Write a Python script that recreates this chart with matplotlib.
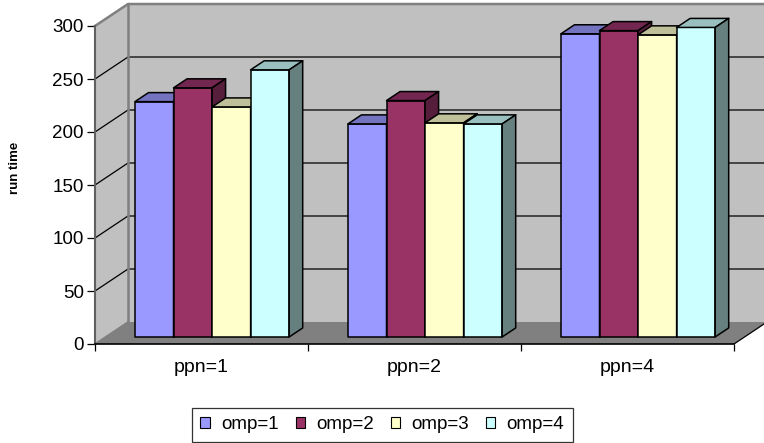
import numpy as np
import matplotlib.pyplot as plt
from matplotlib.patches import Polygon, Patch

plt.rcParams['font.family'] = ['Liberation Sans', 'DejaVu Sans']

# data
categories = ['ppn=1', 'ppn=2', 'ppn=4']
series = ['omp=1', 'omp=2', 'omp=3', 'omp=4']
omp1 = [222, 201, 286]
omp2 = [235, 223, 289]
omp3 = [217, 202, 285]
omp4 = [252, 201, 292]
yticks = [0, 50, 100, 150, 200, 250, 300]

values = [omp1, omp2, omp3, omp4]
front_c = ['#9999FF', '#993366', '#FFFFCC', '#CCFFFF']
top_c = ['#7373BF', '#732650', '#BFBF99', '#99BFBF']
side_c = ['#4D4D80', '#561E3B', '#808066', '#668080']

# pixel geometry of the oblique projection
PX_X = 213.0          # px per category
PX_Y = 1.06           # px per value unit
DX = 33 / PX_X        # depth shift in data units
DY = 22 / PX_Y
F0, F1 = 0.32, 0.73   # bar front / back depth fraction
BAR_W = 0.181

fig = plt.figure(figsize=(7.64, 4.43), dpi=100)
W, H = 764, 443
ax = fig.add_axes([95 / W, (H - 344) / H, (W - 95) / W, 342 / H])
xmax = (W - 95) / PX_X
ax.set_xlim(0, xmax)
ax.set_ylim(0, 342 / PX_Y)
ymax = 300
n = len(categories)

wall = '#C0C0C0'
floor = '#808080'
edge = '#808080'

# left wall, back wall, floor
ax.add_patch(Polygon([(0, 0), (DX, DY), (DX, ymax + DY), (0, ymax)],
                     closed=True, fc=wall, ec='none', zorder=1))
ax.add_patch(Polygon([(DX, DY), (xmax + 1, DY), (xmax + 1, ymax + DY), (DX, ymax + DY)],
                     closed=True, fc=wall, ec='none', zorder=1))
for v in yticks[1:-1]:
    ax.plot([0, DX, xmax + 1], [v, v + DY, v + DY], color='black', lw=0.9, zorder=2)
ax.plot([0, DX, xmax + 1], [ymax, ymax + DY, ymax + DY], color=edge, lw=1.8,
        zorder=2, clip_on=False)
ax.plot([DX, DX], [DY, ymax + DY], color=edge, lw=1.8, zorder=2)
ax.add_patch(Polygon([(0, 0), (n, 0), (n + DX, DY), (DX, DY)],
                     closed=True, fc=floor, ec='none', zorder=3))
ax.plot([0, DX], [0, DY], color=edge, lw=1.2, zorder=3)
ax.plot([n, n + DX], [0, DY], color='black', lw=0.9, zorder=3)

# bars
pad = (1 - len(series) * BAR_W) / 2
for i in range(n):
    for j in range(len(series)):
        v = values[j][i]
        x0 = i + pad + j * BAR_W + F0 * DX
        y0 = F0 * DY
        x1 = x0 + BAR_W
        ddx = (F1 - F0) * DX
        ddy = (F1 - F0) * DY
        kw = dict(closed=True, ec='black', lw=1.1, zorder=4, joinstyle='round')
        ax.add_patch(Polygon([(x0, y0), (x1, y0), (x1, y0 + v), (x0, y0 + v)],
                             fc=front_c[j], **kw))
        ax.add_patch(Polygon([(x0, y0 + v), (x1, y0 + v), (x1 + ddx, y0 + v + ddy),
                              (x0 + ddx, y0 + v + ddy)], fc=top_c[j], **kw))
        ax.add_patch(Polygon([(x1, y0), (x1 + ddx, y0 + ddy), (x1 + ddx, y0 + v + ddy),
                              (x1, y0 + v)], fc=side_c[j], **kw))

# axes
for s in ['top', 'right']:
    ax.spines[s].set_visible(False)
ax.spines['left'].set_bounds(0, ymax)
ax.spines['left'].set_color('#606060')
ax.spines['left'].set_linewidth(1.5)
ax.spines['left'].set_zorder(5)
ax.spines['bottom'].set_bounds(0, n)
ax.spines['bottom'].set_color('black')
ax.spines['bottom'].set_linewidth(1.2)
ax.spines['bottom'].set_zorder(5)

ax.set_yticks(yticks)
ax.tick_params(axis='y', direction='out', length=6, width=0.9, pad=2, labelsize=13.5)
ax.set_xticks(range(n + 1))
ax.set_xticklabels([])
ax.tick_params(axis='x', which='major', direction='out', length=5, width=0.9)
ax.set_xticks(np.arange(n) + 0.5, minor=True)
ax.set_xticklabels(categories, minor=True)
ax.tick_params(axis='x', which='minor', length=0, pad=10.5, labelsize=14)

fig.text(15 / W, 1 - 168 / H, 'run time', rotation=90, ha='center', va='center',
         fontsize=9.5, fontweight='bold')

handles = [Patch(fc=c, ec='black', lw=0.8) for c in front_c]
leg = fig.legend(handles, series, ncol=4, loc='upper left',
                 bbox_to_anchor=(192 / W, 1 - 408 / H), frameon=True, fancybox=False,
                 fontsize=13.5, handlelength=0.5, handleheight=0.5,
                 handletextpad=0.6, columnspacing=0.9, borderpad=0.45, borderaxespad=0)
leg.get_frame().set_edgecolor('black')
leg.get_frame().set_linewidth(0.9)

fig.savefig('out.png', dpi=100)
